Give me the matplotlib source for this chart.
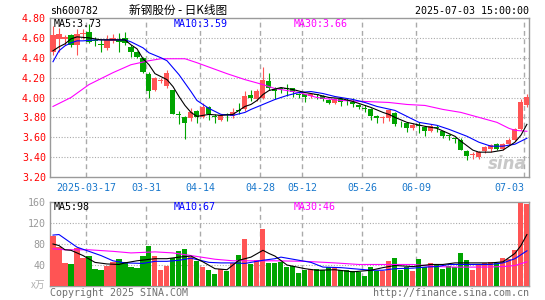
import numpy as np
import matplotlib
matplotlib.use("Agg")
import matplotlib.pyplot as plt

W, H = 545, 300

# trading days, index 0 = 2025-03-07
date_labels = ["2025-03-17", "03-31", "04-14", "04-28", "05-12", "05-26", "06-09", "07-03"]
date_idx = [6, 16, 25, 35, 42, 52, 61, 79]

opens = [4.46, 4.59, 4.59, 4.63, 4.53, 4.64, 4.66, 4.57, 4.54, 4.50,
         4.57, 4.58, 4.60, 4.51, 4.46, 4.40, 4.24, 4.08, 4.17, 4.12,
         4.08, 3.83, 3.80, 3.79, 3.86, 3.80, 3.90, 3.81, 3.77, 3.83,
         3.81, 3.87, 3.88, 4.03, 3.98, 3.99, 4.17, 4.09, 4.10, 4.10,
         4.10, 4.04, 4.04, 4.02, 4.035, 4.02, 3.97, 3.94, 3.98, 3.97,
         3.95, 3.92, 3.89, 3.88, 3.81, 3.79, 3.79, 3.84, 3.735, 3.74,
         3.69, 3.72, 3.70, 3.66, 3.70, 3.66, 3.62, 3.585, 3.57, 3.46,
         3.42, 3.40, 3.46, 3.48, 3.53, 3.48, 3.53, 3.57, 3.68, 3.92]
closes = [4.63, 4.64, 4.61, 4.53, 4.64, 4.65, 4.56, 4.57, 4.53, 4.58,
          4.60, 4.56, 4.55, 4.46, 4.41, 4.26, 4.07, 4.20, 4.18, 4.25,
          3.83, 3.82, 3.74, 3.85, 3.80, 3.90, 3.83, 3.80, 3.82, 3.82,
          3.85, 3.86, 4.02, 3.99, 4.07, 4.18, 4.10, 4.07, 4.09, 4.09,
          4.06, 4.03, 4.01, 4.04, 4.03, 3.98, 3.94, 3.98, 3.95, 3.96,
          3.93, 3.90, 3.885, 3.81, 3.79, 3.80, 3.87, 3.73, 3.73, 3.69,
          3.72, 3.71, 3.66, 3.71, 3.69, 3.61, 3.61, 3.58, 3.47, 3.41,
          3.43, 3.45, 3.50, 3.52, 3.48, 3.53, 3.57, 3.68, 3.95, 4.00]
highs = [4.72, 4.70, 4.63, 4.64, 4.69, 4.69, 4.74, 4.61, 4.59, 4.63,
         4.64, 4.65, 4.66, 4.53, 4.47, 4.41, 4.26, 4.21, 4.20, 4.28,
         4.08, 3.86, 3.81, 3.89, 3.87, 3.94, 3.91, 3.83, 3.83, 3.84,
         3.89, 3.94, 4.07, 4.08, 4.09, 4.31, 4.25, 4.11, 4.11, 4.14,
         4.10, 4.05, 4.04, 4.05, 4.04, 4.03, 3.98, 4.00, 3.99, 4.00,
         3.99, 3.93, 3.92, 3.89, 3.82, 3.81, 3.87, 3.85, 3.76, 3.74,
         3.74, 3.75, 3.71, 3.73, 3.72, 3.66, 3.63, 3.60, 3.59, 3.47,
         3.45, 3.46, 3.51, 3.53, 3.54, 3.54, 3.59, 3.69, 3.98, 4.04]
lows = [4.43, 4.46, 4.53, 4.51, 4.43, 4.59, 4.55, 4.52, 4.46, 4.48,
        4.55, 4.46, 4.53, 4.41, 4.40, 4.25, 4.00, 4.07, 4.15, 4.10,
        3.83, 3.73, 3.58, 3.76, 3.74, 3.79, 3.77, 3.74, 3.76, 3.76,
        3.79, 3.83, 3.86, 3.96, 3.96, 3.98, 4.08, 3.98, 4.05, 4.02,
        4.01, 4.00, 3.95, 4.00, 3.98, 3.96, 3.93, 3.93, 3.91, 3.92,
        3.90, 3.88, 3.85, 3.77, 3.74, 3.74, 3.76, 3.71, 3.70, 3.65,
        3.67, 3.64, 3.61, 3.65, 3.65, 3.59, 3.57, 3.54, 3.47, 3.37,
        3.38, 3.38, 3.44, 3.45, 3.47, 3.47, 3.52, 3.56, 3.67, 3.90]
volume = [95, 75, 44, 41, 73, 53, 58, 32, 30, 39,
          46, 51, 46, 37, 34, 57, 77, 58, 30, 39,
          54, 66, 70, 55, 47, 37, 31, 22, 32, 28,
          43, 60, 89, 41, 49, 108, 44, 44, 46, 37,
          39, 25, 30, 33, 32, 30, 37, 37, 30, 30,
          28, 27, 20, 37, 28, 28, 47, 54, 30, 37,
          28, 52, 37, 44, 41, 32, 39, 36, 63, 49,
          30, 40, 43, 45, 43, 54, 52, 68, 158, 156]

# moving average lines (index, value)
ma5_idx = [0, 1, 2, 3, 4, 6, 8, 10, 12, 13, 14, 15, 16, 17, 19, 20, 21, 22, 23, 24,
           26, 28, 30, 31, 32, 33, 34, 35, 36, 38, 40, 42, 44, 46, 48, 50, 52, 53, 55, 56,
           57, 59, 62, 64, 67, 68, 70, 71, 73, 75, 77, 78, 79]
ma5_val = [4.47, 4.51, 4.54, 4.59, 4.61, 4.60, 4.58, 4.58, 4.58, 4.53, 4.49, 4.39, 4.33, 4.24,
           4.18, 4.11, 4.01, 3.92, 3.85, 3.81, 3.83, 3.82, 3.83, 3.87, 3.91, 3.93, 3.97, 4.03,
           4.07, 4.10, 4.08, 4.05, 4.03, 4.00, 3.99, 3.96, 3.92, 3.90, 3.85, 3.83, 3.80, 3.75,
           3.71, 3.69, 3.61, 3.56, 3.47, 3.45, 3.45, 3.47, 3.55, 3.62, 3.73]
ma10_idx = [0, 1, 2, 3, 4, 5, 7, 9, 12, 13, 15, 16, 18, 19, 21, 23, 24, 26, 28, 30,
            32, 33, 35, 37, 39, 41, 43, 45, 47, 48, 50, 52, 54, 57, 59, 61, 64, 66, 69, 71,
            73, 75, 77, 79]
ma10_val = [4.36, 4.47, 4.52, 4.55, 4.57, 4.57, 4.58, 4.58, 4.58, 4.56, 4.50, 4.45, 4.40, 4.37,
            4.23, 4.06, 3.97, 3.89, 3.83, 3.82, 3.85, 3.88, 3.93, 3.98, 4.02, 4.05, 4.06, 4.04,
            4.01, 4.00, 3.98, 3.95, 3.91, 3.87, 3.81, 3.75, 3.72, 3.68, 3.61, 3.55, 3.51, 3.51,
            3.53, 3.59]
ma30_idx = [0, 3, 6, 10, 13, 16, 18, 22, 24, 29, 32, 35, 37, 41, 44, 48, 52, 56, 59, 62,
            65, 68, 71, 74, 76, 77, 79]
ma30_val = [3.91, 4.00, 4.13, 4.25, 4.33, 4.37, 4.39, 4.39, 4.35, 4.24, 4.18, 4.13, 4.09, 4.05,
            4.00, 3.97, 3.96, 3.95, 3.93, 3.92, 3.88, 3.85, 3.80, 3.75, 3.69, 3.67, 3.66]

vma5_idx = [0, 1, 2, 3, 5, 7, 9, 11, 12, 14, 17, 19, 21, 23, 25, 27, 29, 31, 33, 35,
            36, 37, 39, 42, 44, 47, 50, 53, 55, 57, 60, 63, 65, 67, 70, 73, 75, 77, 78, 79]
vma5_val = [80, 77, 69, 68, 58, 45, 42, 41, 44, 48, 52, 52, 55, 57, 46, 33, 31, 49, 55, 68,
            62, 57, 40, 33, 30, 31, 27, 30, 35, 39, 37, 41, 41, 44, 44, 44, 46, 62, 77, 98]
vma10_idx = [0, 1, 2, 4, 6, 8, 10, 12, 15, 17, 19, 21, 23, 26, 28, 30, 32, 35, 37, 38,
             41, 43, 45, 48, 51, 53, 55, 57, 60, 62, 64, 66, 68, 71, 73, 75, 77, 79]
vma10_val = [97, 98, 90, 74, 66, 58, 48, 44, 43, 47, 47, 49, 53, 45, 44, 44, 43, 49, 52, 55,
             49, 45, 36, 35, 32, 30, 30, 33, 34, 36, 37, 41, 41, 41, 41, 44, 52, 67]
vma30_idx = [0, 2, 6, 10, 13, 17, 20, 23, 27, 30, 33, 37, 42, 47, 51, 55, 60, 64, 67, 72,
             75, 77, 79]
vma30_val = [71, 69, 69, 66, 63, 65, 63, 58, 51, 48, 48, 48, 47, 44, 41, 41, 41, 37, 36, 36,
             37, 39, 46]

price_ticks = [3.20, 3.40, 3.60, 3.80, 4.00, 4.20, 4.40, 4.60, 4.80]
vol_ticks = [40, 80, 120, 160]

UP, DOWN = "#ff5454", "#00a400"
GRID = "#aaaaaa"
MONO = "DejaVu Sans Mono"
FS = 7.2

fig = plt.figure(figsize=(W / 100, H / 100), dpi=100)


def rect(left, top, right, bottom):
    return [left / W, 1 - bottom / H, (right - left) / W, (bottom - top) / H]


ax = fig.add_axes(rect(50, 18, 529, 177))
axv = fig.add_axes(rect(50, 202, 529, 286))

x = np.arange(len(closes))
o = np.array(opens)
c = np.array(closes)
colors = np.where(c > o, UP, DOWN)

# candles
ax.vlines(x, lows, highs, colors=colors, lw=0.8, zorder=3)
body_lo = np.minimum(o, c)
body_h = np.maximum(np.abs(c - o), 0.008)
ax.bar(x, body_h, bottom=body_lo, width=0.84, color=colors, lw=0, zorder=4)

ax.plot(ma30_idx, ma30_val, color="#ff00ff", lw=0.8, zorder=5)
ax.plot(ma10_idx, ma10_val, color="#0000ff", lw=0.8, zorder=6)
ax.plot(ma5_idx, ma5_val, color="black", lw=0.8, zorder=7)

# volume
axv.bar(x, volume, width=0.84, color=colors, lw=0, zorder=3)
axv.plot(vma30_idx, vma30_val, color="#ff00ff", lw=0.8, zorder=5)
axv.plot(vma10_idx, vma10_val, color="#0000ff", lw=0.8, zorder=6)
axv.plot(vma5_idx, vma5_val, color="black", lw=0.8, zorder=7)

grid_x = np.array(date_idx) - 0.42
for a in (ax, axv):
    a.set_xlim(-0.5, 79.35)
    a.set_xticks(grid_x)
    for sp in a.spines.values():
        sp.set_color("#9a9a9a")
        sp.set_linewidth(1.0)
    a.tick_params(length=0)
    for gx in grid_x:
        a.axvline(gx, color=GRID, lw=1.0, ls=(0, (3.5, 2.5)), zorder=1)

ax.set_ylim(3.20, 4.80)
ax.set_yticks(price_ticks)
ax.set_yticklabels(["%.2f" % t for t in price_ticks], color="red",
                   fontfamily=MONO, fontsize=FS)
for t in price_ticks[1:-1]:
    ax.axhline(t, color=GRID, lw=0.8, ls=(0, (1, 1.5)), zorder=1)
ax.set_xticklabels(date_labels, color="#1a78cc", fontfamily=MONO, fontsize=FS)
ax.tick_params(axis="x", pad=4)
ax.tick_params(axis="y", pad=3)
ax.get_xticklabels()[-1].set_ha("right")

axv.set_ylim(0, 160)
axv.set_yticks(vol_ticks)
axv.set_yticklabels([str(t) for t in vol_ticks], color="#999999",
                    fontfamily=MONO, fontsize=FS)
axv.set_xticklabels([])
axv.tick_params(axis="y", pad=3)
for t in vol_ticks[:-1]:
    axv.axhline(t, color=GRID, lw=0.8, ls=(0, (1, 1.5)), zorder=1)


def ftext(px, py, s, **kw):
    fig.text(px / W, 1 - py / H, s, va="center", **kw)


ftext(50, 10.5, "sh600782", fontfamily=MONO, fontsize=FS, color="black")
ftext(178, 10, "新钢股份 - 日K线图", family=["Noto Sans CJK SC", "DejaVu Sans"],
      fontsize=8.4, color="black", ha="center")
ftext(529, 10.5, "2025-07-03 15:00:00", fontfamily=MONO, fontsize=FS, color="black", ha="right")

ftext(54, 24, "MA5:3.73", fontfamily=MONO, fontsize=FS, color="black")
ftext(174, 24, "MA10:3.59", fontfamily=MONO, fontsize=FS, color="#0000ff")
ftext(294, 24, "MA30:3.66", fontfamily=MONO, fontsize=FS, color="#ff00ff")

ftext(54, 206.5, "MA5:98", fontfamily=MONO, fontsize=FS, color="black")
ftext(174, 206.5, "MA10:67", fontfamily=MONO, fontsize=FS, color="#0000ff")
ftext(294, 206.5, "MA30:46", fontfamily=MONO, fontsize=FS, color="#ff00ff")

ftext(45, 285, "x万", family=["Noto Sans CJK SC", "DejaVu Sans"], fontsize=7,
      color="#b0b0b0", ha="right")
ftext(50, 292.5, "Copyright 2025 SINA.COM", fontfamily=MONO, fontsize=FS, color="#707070")
ftext(529, 292.5, "http://finance.sina.com.cn", fontfamily=MONO, fontsize=FS,
      color="#707070", ha="right")

# watermark
ax.text(0.995, 0.08, "sina", transform=ax.transAxes, ha="right", va="center",
        fontsize=12, fontstyle="italic", fontweight="bold", color="#c8c8c8", zorder=2)

fig.savefig("out.png", dpi=100)
